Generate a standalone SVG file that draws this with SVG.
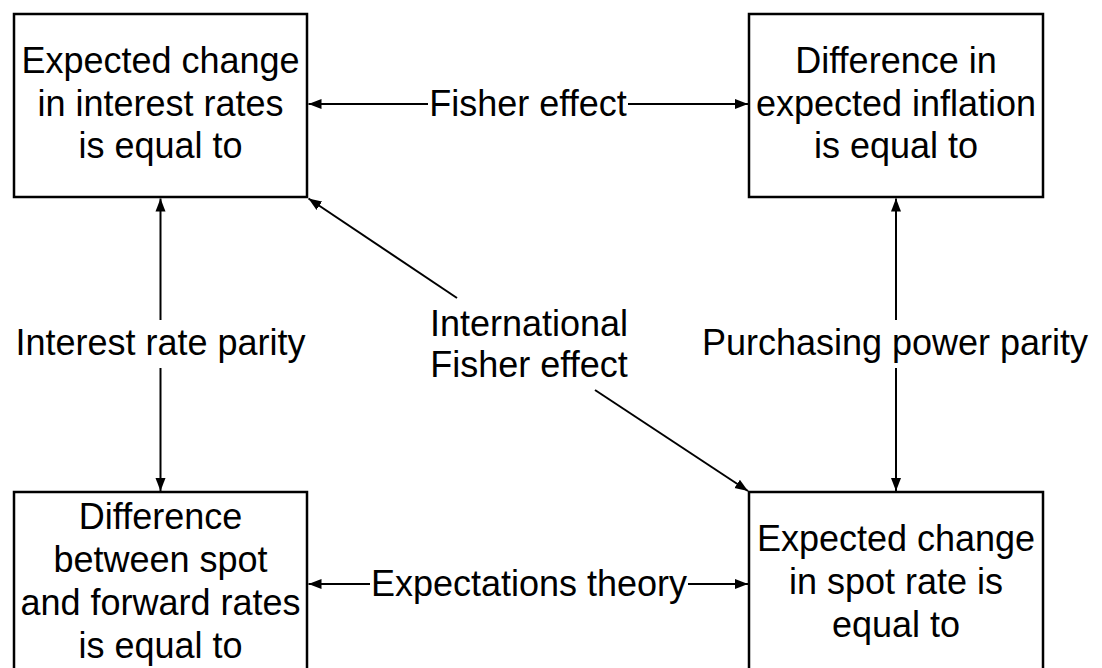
<svg xmlns="http://www.w3.org/2000/svg" width="1102" height="668" viewBox="0 0 1102 668">
<style>
  .box { fill: #ffffff; stroke: #000000; stroke-width: 2.5; }
  .t { font-family: "Liberation Sans", Arial, sans-serif; font-size: 36px; fill: #000000; text-anchor: middle; }
  .c { stroke: #000000; stroke-width: 2; fill: none; marker-end: url(#ah); }
</style>
<defs>
  <marker id="ah" markerUnits="userSpaceOnUse" markerWidth="14" markerHeight="12" refX="13" refY="6" orient="auto">
    <path d="M0,1 L13,6 L0,11 Z" fill="#000000"/>
  </marker>
</defs>
<rect width="1102" height="668" fill="#ffffff"/>
<g id="n1">
  <rect class="box" x="14" y="14" width="293" height="183"/>
  <text class="t" x="160.5" y="72.5">Expected change</text>
  <text class="t" x="160.5" y="116">in interest rates</text>
  <text class="t" x="160.5" y="158">is equal to</text>
</g>
<g id="n2">
  <rect class="box" x="749" y="14" width="294" height="183"/>
  <text class="t" x="896" y="72.5">Difference in</text>
  <text class="t" x="896" y="116">expected inflation</text>
  <text class="t" x="896" y="158">is equal to</text>
</g>
<g id="n3">
  <rect class="box" x="14" y="492" width="293" height="200"/>
  <text class="t" x="160.5" y="529">Difference</text>
  <text class="t" x="160.5" y="572">between spot</text>
  <text class="t" x="160.5" y="615">and forward rates</text>
  <text class="t" x="160.5" y="658">is equal to</text>
</g>
<g id="n4">
  <rect class="box" x="749" y="492" width="294" height="200"/>
  <text class="t" x="896" y="551">Expected change</text>
  <text class="t" x="896" y="594">in spot rate is</text>
  <text class="t" x="896" y="637">equal to</text>
</g>
<g id="connectors">
  <line class="c" x1="428" y1="104" x2="308.5" y2="104"/>
  <line class="c" x1="628" y1="104" x2="748" y2="104"/>
  <line class="c" x1="370" y1="584" x2="308.5" y2="584"/>
  <line class="c" x1="688" y1="584" x2="748" y2="584"/>
  <line class="c" x1="160.5" y1="320" x2="160.5" y2="198.5"/>
  <line class="c" x1="160.5" y1="368" x2="160.5" y2="491"/>
  <line class="c" x1="896" y1="320" x2="896" y2="198.5"/>
  <line class="c" x1="896" y1="368" x2="896" y2="491"/>
  <line class="c" x1="457" y1="298" x2="308.5" y2="198.5"/>
  <line class="c" x1="595" y1="390" x2="748" y2="491"/>
  <text class="t" x="528" y="116">Fisher effect</text>
  <text class="t" x="529" y="596">Expectations theory</text>
  <text class="t" x="160.5" y="355">Interest rate parity</text>
  <text class="t" x="895" y="355">Purchasing power parity</text>
  <text class="t" x="529" y="336">International</text>
  <text class="t" x="529" y="377">Fisher effect</text>
</g>
</svg>
